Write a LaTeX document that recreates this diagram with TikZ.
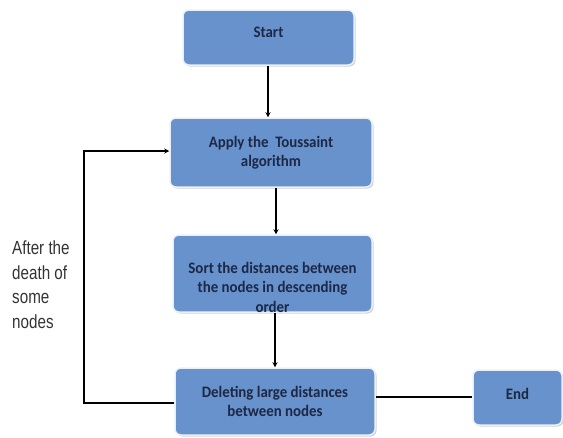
\documentclass[tikz,border=0pt]{standalone}
\usepackage{fontspec}
\setmainfont{Liberation Sans}
\newfontfamily\boxfont[FakeStretch=0.93]{Carlito}
\newfontfamily\labelfont[FakeStretch=0.8]{Liberation Sans}
\usetikzlibrary{arrows.meta,shadows}
\definecolor{boxblue}{RGB}{104,146,204}
\definecolor{boxtext}{RGB}{28,40,70}
\definecolor{boxedge}{RGB}{235,240,248}
\tikzset{
  boxtextstyle/.style={text=boxtext, font=\boxfont\bfseries\fontsize{16}{19.5}\selectfont, align=center},
  flowbox/.style={rectangle, rounded corners=6pt, fill=boxblue, draw=boxedge, line width=1.5pt,
    drop shadow={shadow xshift=1.5pt, shadow yshift=-1.5pt, fill=black!35},
    boxtextstyle, inner sep=2pt},
  link/.style={line width=1.8pt, black},
  arr/.style={link, -{Stealth[length=5pt,width=5pt]}},
  sidelabel/.style={font=\labelfont\fontsize{19}{24.5}\selectfont, text=black!80, align=left, inner sep=0pt}
}
\begin{document}
\begin{tikzpicture}[x=1pt,y=-1pt]
\useasboundingbox (0,0) rectangle (563,437);
\node[flowbox, minimum width=171pt, minimum height=55pt] (start) at (268.5,37.5) {};
\node[boxtextstyle] (starttext) at (268.5,32) {Start};
\node[flowbox, minimum width=202pt, minimum height=69pt] (apply) at (271,152.5) {Apply the\ \ Toussaint\\algorithm};
\node[flowbox, minimum width=199pt, minimum height=77pt] (sort) at (272.5,273.5) {};
\node[boxtextstyle] (sorttext) at (272.5,287) {Sort the distances between\\the nodes in descending\\order};
\node[flowbox, minimum width=200pt, minimum height=67pt] (del) at (275,401.5) {Deleting large distances\\between nodes};
\node[flowbox, minimum width=89pt, minimum height=55pt] (end) at (517.5,397.5) {};
\node[boxtextstyle] (endtext) at (517.5,394) {End};
\coordinate (cornerlow) at (84,403);
\coordinate (cornerhigh) at (84,151);
\node[sidelabel, anchor=north west] (lbl) at (12,241) {After the\\death of\\some\\nodes};
\draw[arr] (start.south -| 268,0) -- (268,0 |- apply.north);
\draw[arr] (apply.south -| 276,0) -- (276,0 |- sort.north);
\draw[arr] (sort.south -| 275,0) -- (275,0 |- del.north);
\draw[link, line width=2.5pt] (del.east |- 0,397) -- (end.west |- 0,397);
\draw[arr] (del.west |- 0,403) -- (cornerlow) -- (cornerhigh) -- (apply.west |- 0,151);
\end{tikzpicture}
\end{document}
